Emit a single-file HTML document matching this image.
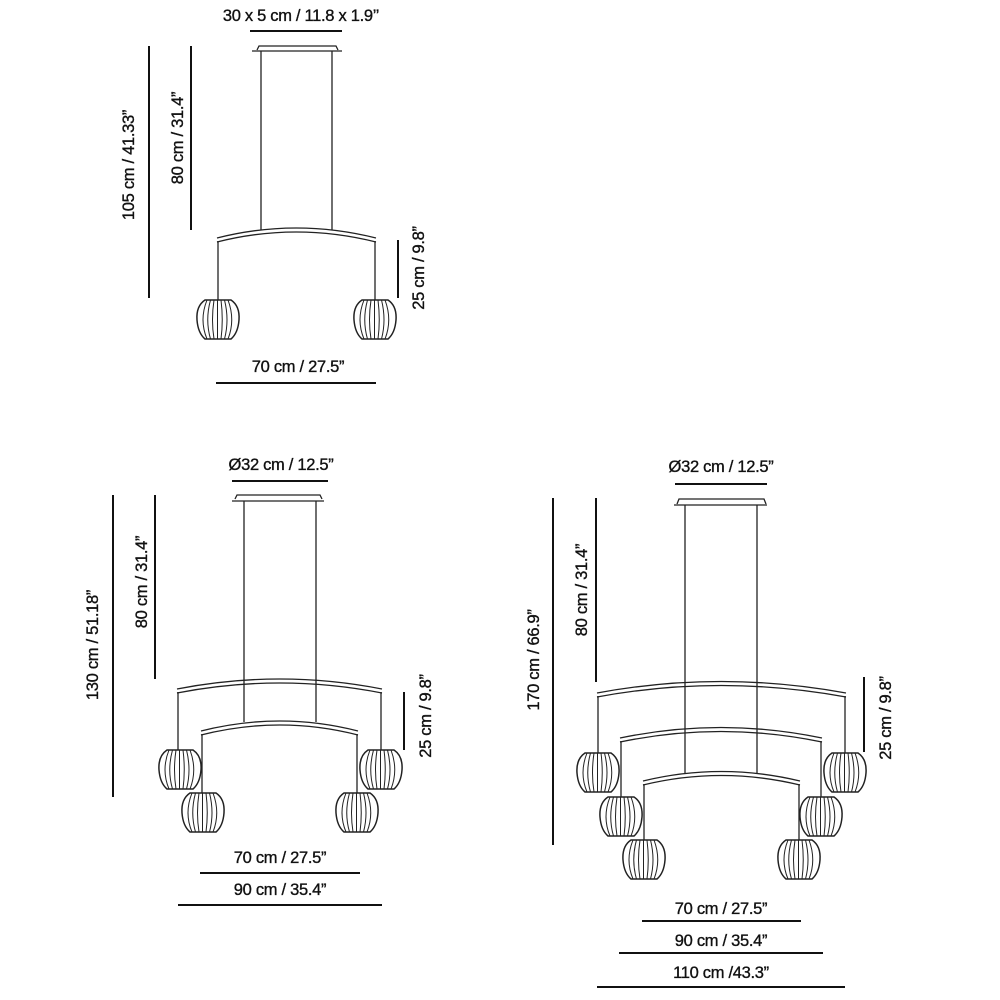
<!DOCTYPE html>
<html><head><meta charset="utf-8"><style>
html,body{margin:0;padding:0;background:#fff;width:1000px;height:1000px;overflow:hidden}
text{font-family:"Liberation Sans",Arial,sans-serif;font-size:16.5px;fill:#111;stroke:#111;stroke-width:0.35;letter-spacing:-0.3px}
</style></head><body>
<svg width="1000" height="1000" viewBox="0 0 1000 1000" xmlns="http://www.w3.org/2000/svg">
<defs>
<g id="g">
<g fill="none" stroke="#222" stroke-width="1">
<path d="M-11 0 Q-19 20 -11 39"/>
<path d="M-7.5 0 Q-13 20 -7.5 39"/>
<path d="M-4 0 Q-7 20 -4 39"/>
<path d="M-0.5 0 L-0.5 39"/>
<path d="M3 0 Q5.5 20 3 39"/>
<path d="M6.5 0 Q11.5 20 6.5 39"/>
<path d="M10 0 Q17.5 20 10 39"/>
</g>
<path d="M-13 0 L13 0 Q22 6 21 20 Q20 33 13 39 L-13 39 Q-20 33 -21 20 Q-22 6 -13 0Z" fill="none" stroke="#222" stroke-width="1.5"/>
</g>
</defs>
<g fill="none" stroke="#111" stroke-width="2">
<line x1="250" y1="31" x2="342" y2="31"/>
<line x1="149" y1="46" x2="149" y2="298"/>
<line x1="191" y1="46" x2="191" y2="230"/>
<line x1="398" y1="240" x2="398" y2="298"/>
<line x1="216" y1="383" x2="376" y2="383"/>
<line x1="232" y1="481" x2="328" y2="481"/>
<line x1="113" y1="495" x2="113" y2="797"/>
<line x1="155" y1="495" x2="155" y2="679"/>
<line x1="404" y1="692" x2="404" y2="750"/>
<line x1="200" y1="873" x2="360" y2="873"/>
<line x1="178" y1="905" x2="382" y2="905"/>
<line x1="675" y1="484" x2="767" y2="484"/>
<line x1="553" y1="498" x2="553" y2="845"/>
<line x1="596" y1="498" x2="596" y2="682"/>
<line x1="864" y1="677" x2="864" y2="752"/>
<line x1="642" y1="921" x2="801" y2="921"/>
<line x1="619" y1="953" x2="823" y2="953"/>
<line x1="597" y1="987" x2="845" y2="987"/>
</g>
<g fill="none" stroke="#222" stroke-width="1.3">
<path d="M257 50 L259 46 L336 46 L338 50"/>
<line x1="252" y1="51" x2="342" y2="51"/>
<line x1="261" y1="51" x2="261" y2="230"/>
<line x1="332" y1="51" x2="332" y2="230"/>
<path d="M217 238 Q296 218 376 238"/>
<path d="M217 242 Q296 222 376 242"/>
<line x1="218" y1="241" x2="218" y2="300"/>
<line x1="375" y1="241" x2="375" y2="300"/>
<path d="M235 499 L237 495 L320 495 L322 499"/>
<line x1="232" y1="501" x2="324" y2="501"/>
<line x1="244" y1="501" x2="244" y2="722"/>
<line x1="316" y1="501" x2="316" y2="722"/>
<path d="M177 689 Q280 669 382 689"/>
<path d="M177 693 Q280 673 382 693"/>
<line x1="178" y1="692" x2="178" y2="750"/>
<line x1="381" y1="692" x2="381" y2="750"/>
<path d="M201 731 Q280 711 358 731"/>
<path d="M201 735 Q280 715 358 735"/>
<line x1="202" y1="734" x2="202" y2="793"/>
<line x1="357" y1="734" x2="357" y2="793"/>
<path d="M677 504 L679 499 L764 499 L766 504"/>
<line x1="674" y1="505" x2="767" y2="505"/>
<line x1="685" y1="505" x2="685" y2="773"/>
<line x1="757" y1="505" x2="757" y2="773"/>
<path d="M597 693 Q721 670 846 693"/>
<path d="M597 697 Q721 674 846 697"/>
<line x1="598" y1="696" x2="598" y2="753"/>
<line x1="845" y1="696" x2="845" y2="753"/>
<path d="M620 738 Q721 717 822 738"/>
<path d="M620 742 Q721 721 822 742"/>
<line x1="621" y1="741" x2="621" y2="797"/>
<line x1="821" y1="741" x2="821" y2="797"/>
<path d="M643 781 Q721 762 800 781"/>
<path d="M643 785 Q721 766 800 785"/>
<line x1="644" y1="784" x2="644" y2="840"/>
<line x1="799" y1="784" x2="799" y2="840"/>
</g>
<use href="#g" x="218" y="300"/>
<use href="#g" x="375" y="300"/>
<use href="#g" x="180" y="750"/>
<use href="#g" x="381" y="750"/>
<use href="#g" x="203" y="793"/>
<use href="#g" x="357" y="793"/>
<use href="#g" x="598" y="753"/>
<use href="#g" x="845" y="753"/>
<use href="#g" x="621" y="797"/>
<use href="#g" x="821" y="797"/>
<use href="#g" x="644" y="840"/>
<use href="#g" x="799" y="840"/>
<text x="301" y="21" text-anchor="middle">30 x 5 cm / 11.8 x 1.9’’</text>
<text x="298" y="372" text-anchor="middle">70 cm / 27.5”</text>
<text transform="translate(134,165) rotate(-90)" text-anchor="middle">105 cm / 41.33”</text>
<text transform="translate(183,138) rotate(-90)" text-anchor="middle">80 cm / 31.4”</text>
<text transform="translate(424,268) rotate(-90)" text-anchor="middle">25 cm / 9.8”</text>
<text x="281" y="470" text-anchor="middle">Ø32 cm / 12.5”</text>
<text x="280" y="863" text-anchor="middle">70 cm / 27.5”</text>
<text x="280" y="895" text-anchor="middle">90 cm / 35.4”</text>
<text transform="translate(98,645) rotate(-90)" text-anchor="middle">130 cm / 51.18”</text>
<text transform="translate(147,582) rotate(-90)" text-anchor="middle">80 cm / 31.4”</text>
<text transform="translate(431,716) rotate(-90)" text-anchor="middle">25 cm / 9.8”</text>
<text x="721" y="472" text-anchor="middle">Ø32 cm / 12.5”</text>
<text x="721" y="914" text-anchor="middle">70 cm / 27.5”</text>
<text x="721" y="946" text-anchor="middle">90 cm / 35.4”</text>
<text x="721" y="978" text-anchor="middle">110 cm /43.3”</text>
<text transform="translate(539,660) rotate(-90)" text-anchor="middle">170 cm / 66.9”</text>
<text transform="translate(587,590) rotate(-90)" text-anchor="middle">80 cm / 31.4”</text>
<text transform="translate(891,718) rotate(-90)" text-anchor="middle">25 cm / 9.8”</text>
</svg>
</body></html>
